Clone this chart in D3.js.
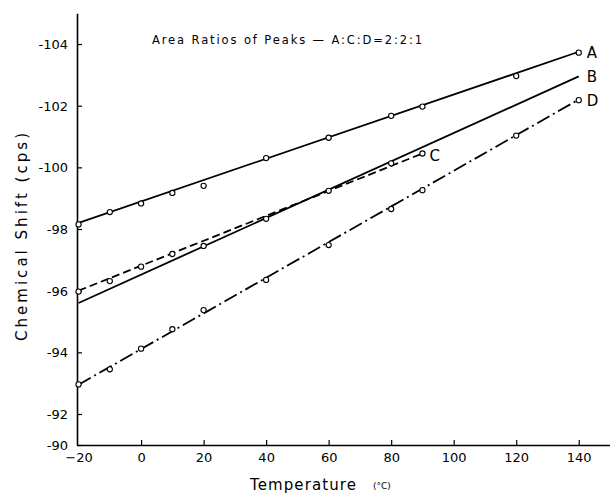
<!DOCTYPE html>
<html><head><meta charset="utf-8">
<script src="https://cdn.jsdelivr.net/npm/d3@7"></script>
<style>html,body{margin:0;padding:0;background:#fff}svg{display:block}</style>
</head><body>
<script>
// ---- data ----
const temps = [-20, -10, 0, 10, 20, 40, 60, 80, 90, 120, 140];
const pointsA = [-98.15, -98.55, -98.83, -99.17, -99.4, -100.3, -100.96, -101.67, -101.97, -102.96, -103.72];
const tempsC = [-20, -10, 0, 10, 20, 40, 60, 80, 90];
const pointsC = [-95.97, -96.31, -96.78, -97.19, -97.45, -98.33, -99.24, -100.13, -100.45];
const pointsD = [-92.96, -93.45, -94.12, -94.75, -95.37, -96.35, -97.48, -98.65, -99.26, -101.03, -102.18];
const fitA = [[-20, -98.2], [140, -103.75]];
const fitB = [[-20, -95.6], [140, -102.95]];
const fitC = [[-20, -96.0], [90, -100.45]];
const fitD = [[-20, -92.95], [140, -102.2]];
const xTicks = [-20, 0, 20, 40, 60, 80, 100, 120, 140];
const yTicks = [-104, -102, -100, -98, -96, -94, -92, -90];
const title = "Area Ratios of Peaks \u2014 A:C:D=2:2:1";

const W = 610, H = 493;
const font = "'DejaVu Sans', sans-serif";
const svg = d3.select("body").append("svg").attr("width", W).attr("height", H);

const x = d3.scaleLinear().domain([-20.5, 150]).range([77, 610]);
// broken (compressed) segment between -90 and -92 as in the original
const y = d3.scaleLinear().domain([-90, -92, -105]).range([445, 414, 13.2]);

// axes
const xAxis = d3.axisBottom(x).tickValues(xTicks).tickSizeInner(-5).tickSizeOuter(0).tickPadding(8);
const gx = svg.append("g").attr("transform", `translate(0,${y(-90)})`).call(xAxis);
const yAxis = d3.axisLeft(y).tickValues(yTicks).tickSizeInner(-5).tickSizeOuter(0).tickPadding(9)
  .tickFormat(d => d3.format("d")(d).replace("\u2212", "-"));
const gy = svg.append("g").attr("transform", `translate(${x(-20.5)},0)`).call(yAxis);
[gx, gy].forEach(g => {
  g.select(".domain").attr("stroke", "#000").attr("stroke-width", 1.6);
  g.selectAll(".tick line").attr("stroke", "#000").attr("stroke-width", 1.2);
  g.selectAll(".tick text").attr("fill", "#000").attr("font-family", font).attr("font-size", 13);
});
gy.selectAll(".tick text").attr("dy", "0.35em");
gx.select(".tick line").attr("opacity", 0);

// lines
const line = d3.line().x(d => x(d[0])).y(d => y(d[1]));
const lines = [
  {d: fitA, dash: null},
  {d: fitB, dash: null},
  {d: fitC, dash: "8,4"},
  {d: fitD, dash: "14,4,2,4"}
];
svg.append("g").selectAll("path").data(lines).join("path")
  .attr("d", l => line(l.d)).attr("fill", "none").attr("stroke", "#000")
  .attr("stroke-width", 1.8).attr("stroke-dasharray", l => l.dash);

// points
const pts = [].concat(
  temps.map((t, i) => [t, pointsA[i]]),
  tempsC.map((t, i) => [t, pointsC[i]]),
  temps.map((t, i) => [t, pointsD[i]])
);
svg.append("g").selectAll("circle").data(pts).join("circle")
  .attr("cx", d => x(d[0])).attr("cy", d => y(d[1])).attr("r", 2.6)
  .attr("fill", "#fff").attr("stroke", "#000").attr("stroke-width", 1.1);

// series labels
const labels = [
  {t: "A", px: 140, py: -103.72, dx: 8, dy: 5},
  {t: "B", px: 140, py: -102.95, dx: 8, dy: 6},
  {t: "D", px: 140, py: -102.18, dx: 8, dy: 6},
  {t: "C", px: 90, py: -100.45, dx: 7, dy: 8}
];
svg.append("g").selectAll("text").data(labels).join("text")
  .attr("x", d => x(d.px) + d.dx).attr("y", d => y(d.py) + d.dy)
  .attr("font-family", font).attr("font-size", 15).text(d => d.t);

// title
svg.append("text").attr("x", 152).attr("y", 44).attr("font-family", font)
  .attr("font-size", 11.5).attr("textLength", 270).attr("lengthAdjust", "spacing").text(title);

// axis titles
svg.append("text").attr("transform", "translate(27,237) rotate(-90)").attr("text-anchor", "middle")
  .attr("font-family", font).attr("font-size", 15).attr("textLength", 208).attr("lengthAdjust", "spacing")
  .text("Chemical Shift (cps)");
svg.append("text").attr("x", 250).attr("y", 490).attr("font-family", font).attr("font-size", 15)
  .attr("textLength", 106).attr("lengthAdjust", "spacing").text("Temperature");
svg.append("text").attr("x", 373).attr("y", 489).attr("font-family", font).attr("font-size", 9).text("(\u00B0C)");
</script>
</body></html>
